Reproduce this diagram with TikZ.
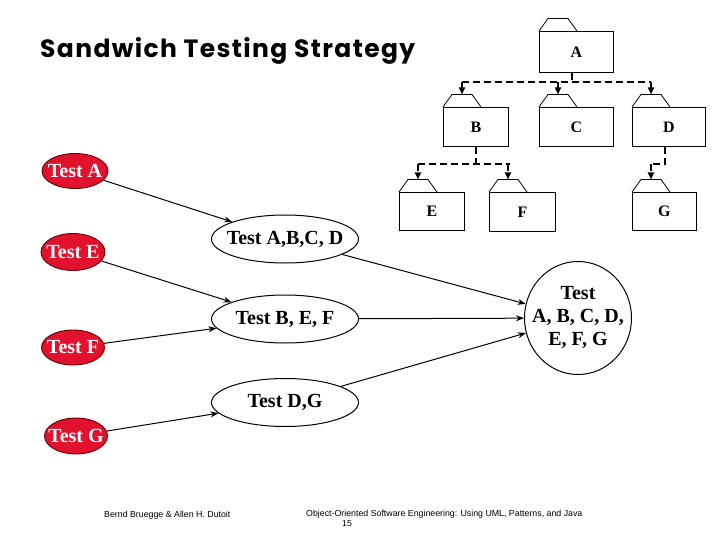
\documentclass[tikz,border=0pt]{standalone}
\usepackage{fontspec}
\setmainfont{Liberation Serif}
\newfontfamily\titlefont[LetterSpace=5.5]{Poppins}
\newfontfamily\footfont{Liberation Sans}
\usetikzlibrary{shapes.geometric,arrows.meta,calc}
\definecolor{testred}{RGB}{226,18,46}
\newcommand\pkgtab[1]{%
  \draw[tabline] (#1.north west) -- ++(9,-12.5) -- ++(20,0) -- ++(9,12.5);
  \path (#1.north west) ++(19,-12.5) coordinate (#1top);}
\newcommand\zw[1]{\makebox[0pt]{#1}}
\begin{document}
\begin{tikzpicture}[x=1pt,y=-1pt,
  pkg/.style={draw, line width=0.8pt, anchor=north west, inner sep=0pt,
    minimum height=39pt, font=\bfseries\fontsize{16}{16}\selectfont},
  tabline/.style={line width=0.8pt},
  dep/.style={line width=1.9pt, dash pattern=on 7pt off 4pt},
  deparrow/.style={dep, -{Triangle[length=7pt,width=6pt]}},
  redtest/.style={ellipse, draw=black!60!red, line width=0.9pt, fill=testred,
    text=white, inner sep=0pt, minimum width=64pt, minimum height=36pt,
    font=\bfseries\fontsize{20}{22}\selectfont},
  intest/.style={ellipse, draw, line width=1pt, fill=white, inner sep=0pt,
    minimum width=147pt, minimum height=48pt,
    font=\bfseries\fontsize{20}{22}\selectfont},
  conn/.style={line width=1pt, -{Stealth[length=8pt,width=6pt]}}
]
\useasboundingbox (0,0) rectangle (720,540);

% title
\node[anchor=base west, inner sep=0pt, font=\titlefont\bfseries\fontsize{25}{28}\selectfont]
  (title) at (40,57.3) {Sandwich Testing Strategy};

% packages
\node[pkg, minimum width=74pt, minimum height=41pt] (A) at (539,31) {A};
\node[pkg, minimum width=65pt] (B) at (443,107) {B};
\node[pkg, minimum width=74pt] (C) at (539,107) {C};
\node[pkg, minimum width=73pt] (D) at (632,107) {D};
\node[pkg, minimum width=65pt, minimum height=38pt] (E) at (399,192) {E};
\node[pkg, minimum width=66pt] (F) at (489,192) {F};
\node[pkg, minimum width=64pt, minimum height=38pt] (G) at (632,192) {G};
\pkgtab{A}\pkgtab{B}\pkgtab{C}\pkgtab{D}\pkgtab{E}\pkgtab{F}\pkgtab{G}

% dependencies
\coordinate (As) at ($(A.south)+(-4,0)$);
\coordinate (Aj) at ($(As)+(0,9)$);
\draw[dep] (As) -- (Aj);
\draw[dep] (Btop |- Aj) -- (Dtop |- Aj);
\draw[deparrow] (Btop |- Aj) -- (Btop);
\draw[deparrow] (Ctop |- Aj) -- (Ctop);
\draw[deparrow] (Dtop |- Aj) -- (Dtop);

\coordinate (Bj) at ($(B.south)+(0,17)$);
\draw[dep] (B.south) -- (Bj);
\draw[dep] (Etop |- Bj) -- ($(Ftop |- Bj)+(2,0)$);
\draw[deparrow] (Etop |- Bj) -- (Etop);
\draw[deparrow] (Ftop |- Bj) -- (Ftop);

\coordinate (Ds) at ($(D.south)+(-4,0)$);
\coordinate (Dj) at ($(Ds)+(0,17)$);
\draw[dep] (Ds) -- (Dj) -- (Gtop |- Dj);
\draw[deparrow] (Gtop |- Dj) -- (Gtop);

% tests
\node[redtest, minimum width=66pt, minimum height=35pt] (TA) at (75,171) {\zw{Test A}};
\node[redtest, minimum height=37pt] (TE) at (73,252) {\zw{Test E}};
\node[redtest, minimum width=63pt, minimum height=35pt] (TF) at (73,347.5) {\zw{Test F}};
\node[redtest, minimum width=63pt] (TG) at (76,436) {\zw{Test G}};

\node[intest] (TABCD) at (285,239) {\zw{Test A,B,C, D}};
\node[intest] (TBEF) at (285,319) {\zw{Test B, E, F}};
\node[intest] (TDG) at (285,402.5) {\zw{Test D,G}};

\node[ellipse, draw, line width=1pt, fill=white, inner sep=0pt,
  minimum width=107pt, minimum height=113pt,
  font=\bfseries\fontsize{20}{23.5}\selectfont] (TALL) at (578,318)
  {\zw{\begin{tabular}{@{}c@{}}Test\\[-0.5pt]A, B, C, D,\\[-0.5pt]E, F, G\end{tabular}}};

\draw[conn] (TA) -- (TABCD);
\draw[conn] (TE) -- (TBEF);
\draw[conn] (TF) -- (TBEF);
\draw[conn] (TG) -- (TDG);
\draw[conn] (TABCD) -- (TALL);
\draw[conn] (TBEF) -- (TALL);
\draw[conn] (TDG) -- (TALL);

% footer
\node[anchor=west, inner sep=0pt, font=\footfont\fontsize{8.8}{10}\selectfont]
  (auth) at (104,515) {Bernd Bruegge \& Allen H. Dutoit};
\node[anchor=west, inner sep=0pt, font=\footfont\fontsize{8.8}{10}\selectfont]
  (book) at (306,514) {Object-Oriented Software Engineering: Using UML, Patterns, and Java};
\node[inner sep=0pt, font=\footfont\fontsize{8.8}{10}\selectfont]
  (page) at (347,524) {15};
\end{tikzpicture}
\end{document}
